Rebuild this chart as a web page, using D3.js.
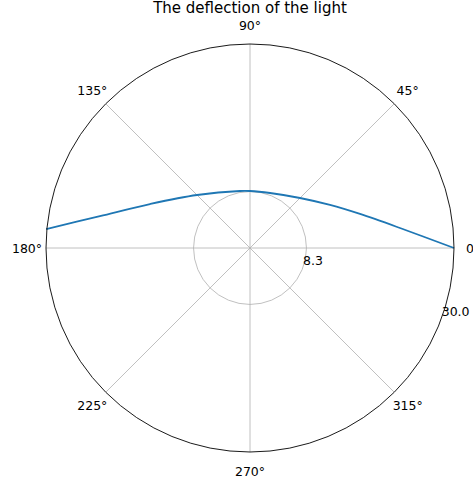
<!DOCTYPE html>
<html>
<head>
<meta charset="utf-8">
<script src="https://cdn.jsdelivr.net/npm/d3@7"></script>
<style>
  html, body { margin: 0; padding: 0; background: #fff; }
  svg { display: block; font-family: "DejaVu Sans", sans-serif; }
  .grid { stroke: #b0b0b0; stroke-width: 0.8; fill: none; }
  .spine { stroke: #000; stroke-width: 0.9; fill: none; }
  .curve { stroke: #1f77b4; stroke-width: 1.8; fill: none; }
</style>
</head>
<body>
<svg width="473" height="482"></svg>
<script>
const width = 473;
const height = 482;
const svg = d3.select("svg");

// light path (angle in degrees, radius in data units)
const thetaDeg = [0, 7.6, 17.2, 28.3, 45, 70, 90, 100, 135, 156.3, 168, 174.7];
const radius   = [30, 22.25, 16.93, 13.36, 10.4, 8.61, 8.38, 8.51, 11.02, 16.07, 22.56, 30.1];

const angleTicks = [0, 45, 90, 135, 180, 225, 270, 315];
const radialTicks = [8.3, 30.0];
const rMax = 30;
const rLabelAngle = -20;
const title = "The deflection of the light";

const cx = 250, cy = 248, R = 204;
const r = d3.scaleLinear().domain([0, rMax]).range([0, R]);
const toRad = d => d * Math.PI / 180;

const g = svg.append("g").attr("transform", `translate(${cx},${cy})`);

// angular grid lines
g.selectAll(".spoke")
    .data(angleTicks)
    .enter()
    .append("line")
    .attr("class", "grid")
    .attr("x1", 0)
    .attr("y1", 0)
    .attr("x2", d => R * Math.cos(toRad(d)))
    .attr("y2", d => -R * Math.sin(toRad(d)));

// radial grid circles (outer one is the spine)
g.selectAll(".ring")
    .data(radialTicks.filter(d => d < rMax))
    .enter()
    .append("circle")
    .attr("class", "grid")
    .attr("r", d => r(d));

// light curve
const line = d3.lineRadial()
    .angle((d, i) => Math.PI / 2 - toRad(thetaDeg[i]))
    .radius((d, i) => r(radius[i]))
    .curve(d3.curveCatmullRom.alpha(0.5));

g.append("path")
    .attr("class", "curve")
    .attr("d", line(thetaDeg));

g.append("circle")
    .attr("class", "spine")
    .attr("r", R);

// angle labels
g.selectAll(".alabel")
    .data(angleTicks)
    .enter()
    .append("text")
    .attr("x", d => (R + 19) * Math.cos(toRad(d)))
    .attr("y", d => -(R + 19) * Math.sin(toRad(d)))
    .attr("text-anchor", "middle")
    .attr("dominant-baseline", "central")
    .attr("font-size", 12.5)
    .attr("fill", "#000")
    .text(d => d + "°");

// radial labels
g.selectAll(".rlabel")
    .data(radialTicks)
    .enter()
    .append("text")
    .attr("x", d => r(d) * Math.cos(toRad(rLabelAngle)))
    .attr("y", d => -r(d) * Math.sin(toRad(rLabelAngle)) - 2)
    .attr("text-anchor", "start")
    .attr("font-size", 12.5)
    .attr("fill", "#000")
    .text(d => d.toFixed(1));

svg.append("text")
    .attr("x", cx)
    .attr("y", 12.5)
    .attr("text-anchor", "middle")
    .attr("font-size", 15)
    .attr("fill", "#000")
    .text(title);
</script>
</body>
</html>
